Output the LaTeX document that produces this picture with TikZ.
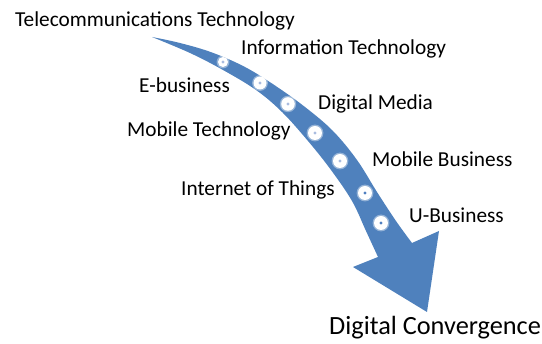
\documentclass[tikz,border=0pt]{standalone}
\usepackage{fontspec}
\setmainfont{Carlito}
\definecolor{bandblue}{HTML}{4F81BD}
\definecolor{dotlight}{HTML}{A9BCE0}
\definecolor{dotdark}{HTML}{4F7FC0}
\tikzset{
  lbl/.style={anchor=base west, inner sep=0pt, text=black,
              font=\fontsize{21.3}{25}\selectfont},
  biglbl/.style={anchor=base west, inner sep=0pt, text=black,
              font=\fontsize{26.3}{30}\selectfont},
}
\begin{document}
\begin{tikzpicture}[x=1pt,y=-1pt]
\useasboundingbox (0,0) rectangle (542,344);

% tapered curved arrow
\fill[bandblue]
  plot[smooth, tension=0.6] coordinates {(152,37) (180,43) (212,52.5) (245,67) (275,85.5)
     (305,107) (333,131) (357,160) (377,192) (396,221) (412,243)}
  -- (439,231) -- (427,312) -- (353,267)
  -- plot[smooth, tension=0.6] coordinates {(378,257) (366,231) (352,201) (331,170)
     (308,141) (282,112) (256,90) (223,70) (190,53) (152,37)}
  -- cycle;

% studs along the arrow
\foreach \px/\py/\r/\c in {223/62/5/dotlight, 260/83/6.5/dotlight,
    288/104/6.8/dotlight, 315/133/7/dotlight, 340/161/7/dotlight,
    365/193/7/dotdark, 381/223/7/dotdark}{
  \fill[white, opacity=0.4] (\px,\py) circle (\r+1.4);
  \fill[white] (\px,\py) circle (\r);
  \fill[\c] (\px,\py) circle (1.7);
}

% labels
\node[lbl] (tel) at (15,26.5) {Telecommunications Technology};
\node[lbl] (inf) at (241,55) {Information Technology};
\node[lbl] (ebu) at (139,93) {E-business};
\node[lbl] (dme) at (318,110) {Digital Media};
\node[lbl] (mte) at (127,137) {Mobile Technology};
\node[lbl] (mbu) at (372,167) {Mobile Business};
\node[lbl] (iot) at (181,196) {Internet of Things};
\node[lbl] (ubu) at (409,223) {U-Business};
\node[biglbl] (dco) at (329,335) {Digital Convergence};
\end{tikzpicture}
\end{document}
